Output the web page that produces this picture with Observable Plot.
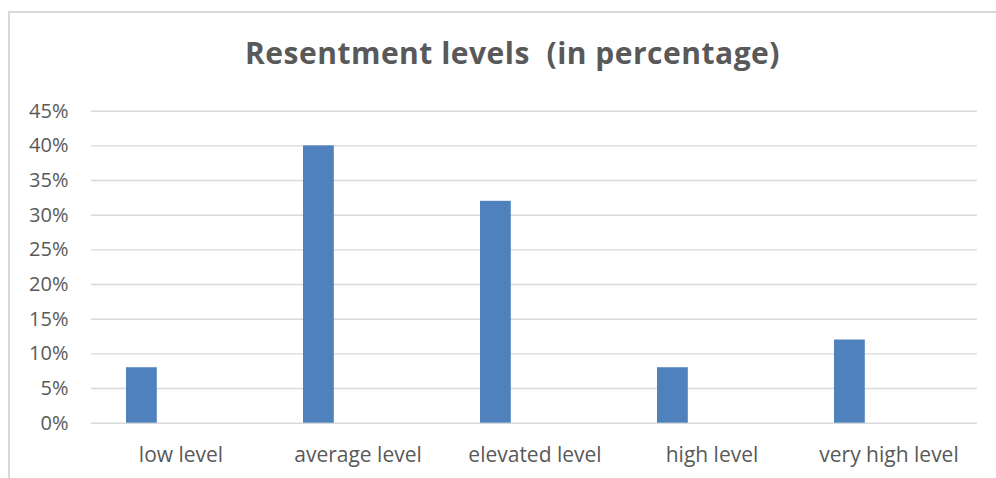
<!DOCTYPE html>
<html>
<head>
<meta charset="utf-8">
<script src="https://cdn.jsdelivr.net/npm/d3@7"></script>
<script src="https://cdn.jsdelivr.net/npm/@observablehq/plot@0.6"></script>
<style>
  html, body { margin: 0; padding: 0; background: #fff; overflow: hidden; }
  #wrap { position: relative; width: 996px; height: 478px; overflow: hidden; }
  #frame { position: absolute; left: 8px; top: 11px; width: 1100px; height: 600px; border: 2px solid #d9d9d9; box-sizing: border-box; }
  #title { position: absolute; left: 29px; width: 967px; top: 38px; text-align: center; font-family: "Open Sans", sans-serif; font-weight: 700; font-size: 30px; line-height: 30px; color: #595959; letter-spacing: 0.5px; white-space: pre; }
  #chart { position: absolute; left: 0; top: 0; }
</style>
</head>
<body>
<div id="wrap">
  <div id="frame"></div>
  <div id="chart"></div>
  <div id="title">Resentment levels  (in percentage)</div>
</div>
<script>
const categories = ["low level", "average level", "elevated level", "high level", "very high level"];
const values = [8, 40, 32, 8, 12];
const yTicks = [0, 5, 10, 15, 20, 25, 30, 35, 40, 45];

const data = categories.map((c, i) => ({category: c, value: values[i]}));

const chart = Plot.plot({
  width: 996,
  height: 478,
  marginLeft: 91,
  marginRight: 19,
  marginTop: 110.7,
  marginBottom: 55.3,
  style: {fontFamily: "Open Sans, sans-serif", color: "#595959", background: "transparent"},
  x: {type: "band", domain: categories, padding: 0, label: null},
  y: {domain: [0, 45], ticks: yTicks, label: null},
  marks: [
    Plot.gridY(yTicks, {stroke: "#d9d9d9", strokeOpacity: 1, strokeWidth: 1.4}),
    Plot.barY(data, {x: "category", y: "value", fill: "#4f81bd", insetLeft: 34, insetRight: 112.2}),
    Plot.axisY(yTicks, {tickSize: 0, tickPadding: 23, fontSize: 20, tickFormat: d => d + "%", label: null}),
    Plot.axisX({tickSize: 0, tickPadding: 24, fontSize: 21, label: null})
  ]
});
document.getElementById("chart").appendChild(chart);
</script>
</body>
</html>
